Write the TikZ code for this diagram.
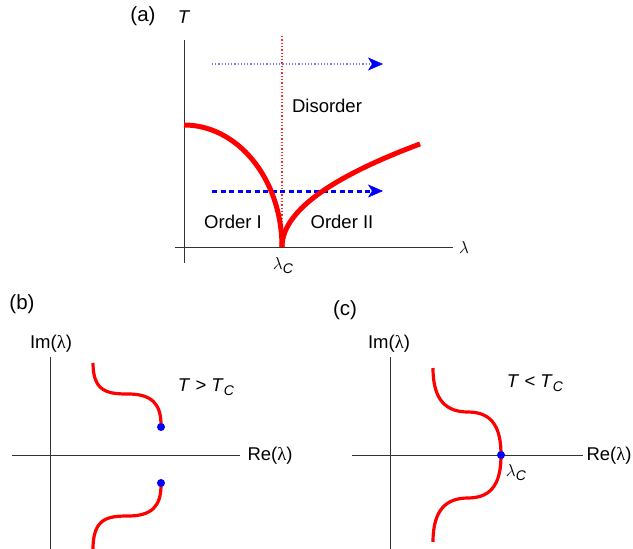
\documentclass[tikz,border=0pt]{standalone}
\usepackage{fontspec}
\setmainfont{Liberation Sans}
\newfontfamily\greekf{Liberation Serif}
\usetikzlibrary{arrows.meta}
\definecolor{pred}{RGB}{255,0,0}
\definecolor{pred2}{RGB}{255,40,40}
\definecolor{pblue}{RGB}{0,0,255}
\definecolor{plblue}{RGB}{120,120,240}
\newcommand{\subC}{\raisebox{-0.4ex}{\fontsize{14}{14}\selectfont\textit{C}}}
\newcommand{\uplam}{{\greekf λ}}
\begin{document}
\begin{tikzpicture}[x=1pt,y=-1pt,
  lbl/.style={inner sep=0pt, font=\fontsize{18.5}{21}\selectfont},
  plbl/.style={inner sep=0pt, font=\fontsize{20.5}{23}\selectfont},
  axis/.style={draw=black!80, line width=1pt},
  phase/.style={draw=pred, line width=5pt},
  zero/.style={draw=pred, line width=3.2pt},
  bluedot/.style={circle, fill=pblue, inner sep=0pt, minimum size=8pt},
  arrowtip/.style={-{Stealth[length=15pt,width=13pt,inset=4pt,color=pblue,fill=pblue,line width=0.5pt]}}
]
\useasboundingbox (0,0) rectangle (633,549);

% ---------- panel (a) ----------
\node[plbl] (la) at (143,16) {(a)};
\node[lbl] (lT) at (184,17) {\textit{T}};
\coordinate (ya0) at (184,40);
\coordinate (ya1) at (184,263);
\coordinate (xa0) at (175,247);
\coordinate (xa1) at (453,247);
\draw[axis] (ya0) -- (ya1);
\draw[axis] (xa0) -- (xa1);
\node[lbl] (llam) at (464,247) {$\lambda$};
\node[lbl] (llamc) at (283,266) {$\lambda$\subC};

% critical line
\coordinate (c0) at (282,36);
\coordinate (c1) at (282,247);
\draw[pred2, line width=1.3pt, dotted] (c0) -- (c1);

% arrows
\coordinate (a1s) at (212,64);
\coordinate (a1e) at (383,64);
\draw[plblue, line width=1.2pt, dotted, arrowtip] (a1s) -- (a1e);
\coordinate (a2s) at (212,191);
\coordinate (a2e) at (383,191);
\draw[pblue, line width=3pt, dash pattern=on 5pt off 3.5pt, arrowtip] (a2s) -- (a2e);

% phase boundaries
\draw[phase, line cap=butt] plot[domain=0:90, samples=80, smooth] ({184+98*cos(\x)}, {247-122*sin(\x)});
\draw[phase, line cap=butt] plot[domain=0:11.75, samples=80, smooth] ({282+\x*\x}, {247-8.77*\x});

\node[lbl] (dis) at (327,106) {Disorder};
\node[lbl] (o1) at (233,222) {Order I};
\node[lbl] (o2) at (342,222) {Order II};

% ---------- panel (b) ----------
\node[plbl] (lb) at (22,304) {(b)};
\node[lbl] (imb) at (51,344) {Im(\uplam)};
\node[lbl] (reb) at (270,456) {Re(\uplam)};
\coordinate (yb0) at (50,357);
\coordinate (yb1) at (50,549);
\coordinate (xb0) at (12,455);
\coordinate (xb1) at (240,455);
\draw[axis] (yb0) -- (yb1);
\draw[axis] (xb0) -- (xb1);
\coordinate (bu0) at (93,363);
\coordinate (bu1) at (161,425);
\coordinate (bl0) at (93,549);
\coordinate (bl1) at (161,485);
\draw[zero] (bu0) .. controls (93,392) and (108,394) .. (128,394) .. controls (152,394) and (161,404) .. (bu1);
\draw[zero] (bl1) .. controls (161,506) and (152,516) .. (128,516) .. controls (108,516) and (93,518) .. (bl0);
\node[bluedot] (db1) at (161,427) {};
\node[bluedot] (db2) at (161,483) {};
\node[lbl] (tgt) at (206,387) {\textit{T} > \textit{T}\subC};

% ---------- panel (c) ----------
\node[plbl] (lc) at (345,310) {(c)};
\node[lbl] (imc) at (389,344) {Im(\uplam)};
\node[lbl] (rec) at (609,456) {Re(\uplam)};
\coordinate (yc0) at (390,357);
\coordinate (yc1) at (390,549);
\coordinate (xc0) at (352,455);
\coordinate (xc1) at (583,455);
\draw[axis] (yc0) -- (yc1);
\draw[axis] (xc0) -- (xc1);
\coordinate (ct) at (433,368);
\coordinate (cb) at (433,542);
\coordinate (cm) at (501,455);
\draw[zero] (ct) .. controls (433,400) and (446,412) .. (468,412) .. controls (494,412) and (501,430) .. (cm)
  .. controls (501,480) and (494,498) .. (468,498) .. controls (446,498) and (433,510) .. (cb);
\node[bluedot] (dc) at (cm) {};
\node[lbl] (lcc) at (516,473) {$\lambda$\subC};
\node[lbl] (tlt) at (535,383) {\textit{T} < \textit{T}\subC};
\end{tikzpicture}
\end{document}
